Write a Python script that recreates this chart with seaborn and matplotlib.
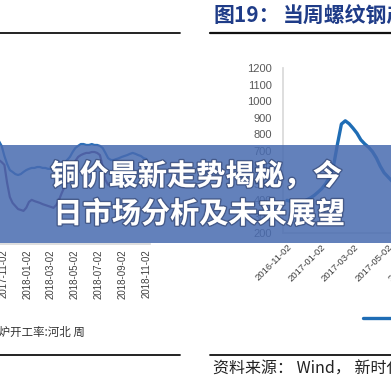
import numpy as np
import pandas as pd
import matplotlib
matplotlib.use("Agg")
import matplotlib.pyplot as plt
import matplotlib.dates as mdates
from matplotlib.lines import Line2D
from matplotlib.patches import Rectangle
import matplotlib.patheffects as pe
import seaborn as sns

# ---------------- data ----------------
left_start = "2017-10-13"
left_national = [74.6, 73.6, 72.0, 68.7, 66.1, 64.1, 63.5, 62.8, 62.5, 62.8,
                 63.5, 64.1, 64.5, 64.8, 64.8, 65.1, 65.1, 64.8, 64.8, 64.5,
                 64.5, 64.8, 65.1, 65.4, 65.8, 66.4, 67.4, 68.4, 70.0, 71.3,
                 72.0, 72.6, 72.6, 72.3, 72.3, 72.6, 72.3, 72.3, 72.0, 71.3,
                 69.7, 68.0, 67.4, 67.4, 67.7, 68.0, 68.4, 68.7, 69.0, 69.4,
                 69.7, 69.4, 69.0, 68.7, 68.0, 67.7]
left_hebei = [68.0, 67.4, 66.7, 65.8, 59.9, 55.3, 53.4, 52.4, 51.4, 51.1,
              50.8, 51.8, 53.7, 54.4, 54.0, 53.7, 53.4, 53.0, 52.7, 52.4,
              52.1, 51.8, 52.7, 54.4, 56.6, 58.6, 60.9, 63.2, 65.4, 67.1,
              68.4, 69.0, 69.4, 69.7, 69.7, 70.0, 70.0, 69.7, 69.0, 65.4,
              60.9, 59.3]
left_ticks = ["2017-11-02", "2018-01-02", "2018-03-02", "2018-05-02",
              "2018-07-02", "2018-09-02", "2018-11-02"]

right_start = "2016-11-02"
rebar = [398, 392, 388, 385, 388, 400, 412, 428, 448, 470,
         500, 540, 610, 740, 860, 880, 862, 835, 805, 765,
         740, 720, 693, 655, 605, 565, 540, 515, 490, 470, 455]
right_ticks = ["2016-11-02", "2017-01-02", "2017-03-02", "2017-05-02",
               "2017-07-02", "2017-09-02"]
right_yticks = [200, 300, 400, 500, 600, 700, 800, 900, 1000, 1100, 1200]

banner_lines = ["铜价最新走势揭秘，今", "日市场分析及未来展望"]
right_title_num = "图19："
right_title = "当周螺纹钢产量"
right_source = "资料来源： Wind， 新时代证券研究所"
left_legend = "高炉开工率:河北 周"

# ---------------- figure ----------------
sns.set_theme(style="white")
plt.rcParams["font.family"] = ["Noto Sans CJK SC", "DejaVu Sans"]

W = H = 391
fig = plt.figure(figsize=(W / 100, H / 100), dpi=100)
fig.patch.set_facecolor("white")


def rect(x0, y0, x1, y1):
    return [x0 / W, 1 - y1 / H, (x1 - x0) / W, (y1 - y0) / H]


def fx(x):
    return x / W


def fy(y):
    return 1 - y / H


# ---- left chart ----
axL = fig.add_axes(rect(-10, 60, 150, 244))
dL_nat = pd.DataFrame({"date": pd.date_range(left_start, periods=len(left_national), freq="7D"),
                       "v": left_national})
dL_heb = pd.DataFrame({"date": pd.date_range(left_start, periods=len(left_hebei), freq="7D"),
                       "v": left_hebei})
sns.lineplot(data=dL_nat, x="date", y="v", ax=axL, color="#2E6FB7", linewidth=1.6)
sns.lineplot(data=dL_heb, x="date", y="v", ax=axL, color="#6E2A66", linewidth=1.6)
d0 = mdates.date2num(pd.Timestamp("2017-11-02"))
ppd = 0.39
axL.set_xlim(d0 + (-10 - 4) / ppd, d0 + (150 - 4) / ppd)
axL.set_ylim(40, 100)
axL.set_xticks([mdates.date2num(pd.Timestamp(t)) for t in left_ticks])
axL.set_xticklabels(left_ticks, rotation=90, fontsize=7, color="#404040",
                    family="Liberation Sans")
axL.tick_params(axis="x", length=0, pad=4)
axL.set_yticks([])
axL.set_xlabel("")
axL.set_ylabel("")
for s in ["top", "right", "left"]:
    axL.spines[s].set_visible(False)
axL.spines["bottom"].set_color("#D9D9D9")
axL.set_facecolor("none")

# ---- right chart ----
axR = fig.add_axes(rect(283, 68, 520, 233))
dR = pd.DataFrame({"date": pd.date_range(right_start, periods=len(rebar), freq="7D"),
                   "v": rebar})
sns.lineplot(data=dR, x="date", y="v", ax=axR, color="#1F6DB5", linewidth=2.4)
r0 = mdates.date2num(pd.Timestamp("2016-11-02"))
rpd = 0.555
axR.set_xlim(r0 + (283 - 287) / rpd, r0 + (520 - 287) / rpd)
axR.set_ylim(200, 1200)
axR.set_xticks([mdates.date2num(pd.Timestamp(t)) for t in right_ticks])
axR.set_xticklabels(right_ticks, rotation=45, ha="right", rotation_mode="anchor",
                    fontsize=6.8, color="#404040", family="Liberation Sans")
axR.set_yticks(right_yticks)
axR.set_yticklabels([str(v) for v in right_yticks], fontsize=8, color="#595959",
                    family="Liberation Sans")
axR.tick_params(axis="x", length=0, pad=7)
axR.tick_params(axis="y", length=0, pad=8)
axR.set_xlabel("")
axR.set_ylabel("")
for s in ["top", "right"]:
    axR.spines[s].set_visible(False)
axR.spines["left"].set_color("#D9D9D9")
axR.spines["bottom"].set_color("#D9D9D9")
axR.set_facecolor("none")

# ---- decorations: rules, titles, captions ----
for (x0, x1, y, lw) in [(0, 180, 33, 1.3), (210, 391, 33, 1.6),
                        (0, 180, 355, 1.3), (210, 391, 355, 1.3)]:
    fig.add_artist(Line2D([fx(x0), fx(x1)], [fy(y), fy(y)], color="#111111",
                          linewidth=lw, transform=fig.transFigure))

fig.text(fx(213), fy(15), right_title_num, fontsize=15, fontweight="bold",
         color="#1F3C88", ha="left", va="center")
fig.text(fx(283), fy(15), right_title, fontsize=15, fontweight="bold",
         color="#1F3C88", ha="left", va="center")
fig.text(fx(213), fy(369), right_source, fontsize=11.5, color="#222222",
         ha="left", va="center")
fig.text(fx(85), fy(332), left_legend, fontsize=8.3, color="#333333",
         ha="right", va="center")
fig.add_artist(Line2D([fx(363), fx(400)], [fy(318), fy(318)], color="#1F6DB5",
                      linewidth=2.4, transform=fig.transFigure))

# ---- banner overlay ----
fig.add_artist(Rectangle((0, fy(243)), 1, (243 - 145) / H, transform=fig.transFigure,
                         facecolor="#486BB0", alpha=0.85, edgecolor="none", zorder=5))
shadow = [pe.withStroke(linewidth=2, foreground=(0.15, 0.2, 0.35, 0.5))]
fig.text(fx(196), fy(176), banner_lines[0], fontsize=21, fontweight="bold",
         color="white", ha="center", va="center", zorder=6, path_effects=shadow)
fig.text(fx(199), fy(214), banner_lines[1], fontsize=21, fontweight="bold",
         color="white", ha="center", va="center", zorder=6, path_effects=shadow)

fig.savefig("out.png", dpi=100)
